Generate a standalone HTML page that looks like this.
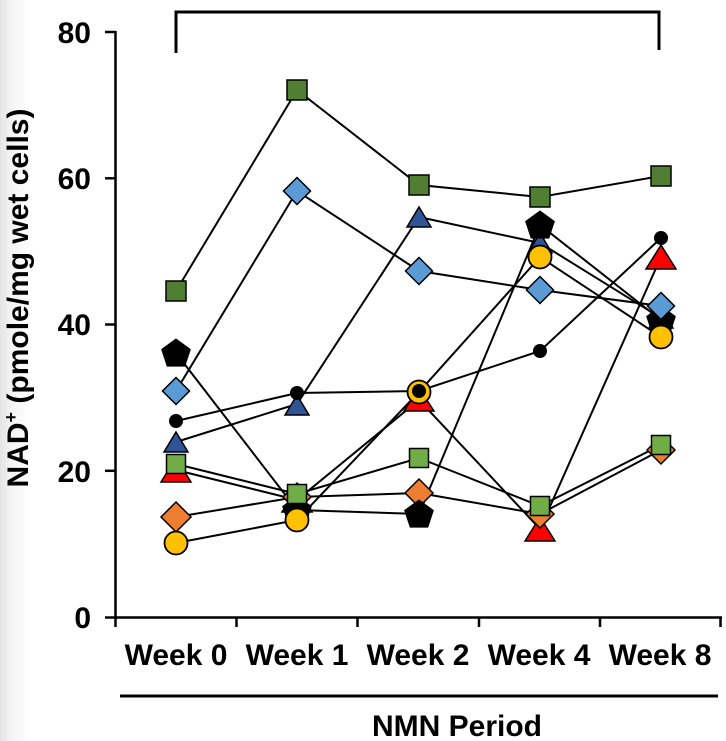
<!DOCTYPE html>
<html><head><meta charset="utf-8"><style>
html,body{margin:0;padding:0;background:#fff;}
svg{display:block;}
text{font-family:"Liberation Sans",Arial,sans-serif;font-weight:bold;fill:#000;}
</style></head><body>
<svg width="726" height="741" viewBox="0 0 726 741" xmlns="http://www.w3.org/2000/svg">
<defs>
<linearGradient id="lg" x1="0" y1="0" x2="1" y2="0">
<stop offset="0" stop-color="#e4e4e4"/><stop offset="0.35" stop-color="#f3f3f3"/><stop offset="1" stop-color="#ffffff"/>
</linearGradient>
</defs>
<rect x="0" y="0" width="726" height="741" fill="#fff"/>
<rect x="0" y="0" width="30" height="741" fill="url(#lg)"/>

<!-- top bracket -->
<polyline points="176,53 176,12 659,12 659,50" fill="none" stroke="#000" stroke-width="3"/>

<!-- axes -->
<line x1="115.5" y1="31" x2="115.5" y2="619" stroke="#000" stroke-width="2.5"/>
<line x1="114" y1="617.5" x2="722" y2="617.5" stroke="#000" stroke-width="2.5"/>
<g stroke="#000" stroke-width="2.5">
<line x1="105" y1="32" x2="116" y2="32"/>
<line x1="105" y1="178.3" x2="116" y2="178.3"/>
<line x1="105" y1="324.5" x2="116" y2="324.5"/>
<line x1="105" y1="470.8" x2="116" y2="470.8"/>
<line x1="105" y1="617.5" x2="116" y2="617.5"/>
<line x1="115.5" y1="617" x2="115.5" y2="627"/>
<line x1="236.5" y1="617" x2="236.5" y2="627"/>
<line x1="357.5" y1="617" x2="357.5" y2="627"/>
<line x1="479" y1="617" x2="479" y2="627"/>
<line x1="600" y1="617" x2="600" y2="627"/>
<line x1="720.5" y1="617" x2="720.5" y2="627"/>
</g>

<!-- tick labels -->
<g font-size="30" text-anchor="end">
<text x="91" y="43">80</text>
<text x="91" y="189">60</text>
<text x="91" y="335">40</text>
<text x="91" y="482">20</text>
<text x="91" y="628">0</text>
</g>

<!-- category labels -->
<g font-size="30" text-anchor="middle">
<text x="176" y="665">Week 0</text>
<text x="297" y="665">Week 1</text>
<text x="418" y="665">Week 2</text>
<text x="539" y="665">Week 4</text>
<text x="660" y="665">Week 8</text>
</g>

<line x1="120" y1="696" x2="718" y2="696" stroke="#000" stroke-width="3"/>
<text x="457" y="736" font-size="30" text-anchor="middle">NMN Period</text>

<!-- y label -->
<text transform="translate(28,298) rotate(-90)" font-size="30" text-anchor="middle">NAD<tspan font-size="18" dy="-11">+</tspan><tspan dy="11"> (pmole/mg wet cells)</tspan></text>

<!-- series lines -->
<g fill="none" stroke="#000" stroke-width="2">
<polyline points="176,291 297,90 419,185 540,197 661,176"/>
<polyline points="176,391 297,191 419,271 540,290 661,306"/>
<polyline points="176,442 297,404 419,217 540,243 661,318"/>
<polyline points="176,353 297,510 419,514 540,225 661,320"/>
<polyline points="176,421 297,393 419,391 540,351 661,238"/>
<polyline points="176,470 297,500 419,400 540,529 661,257"/>
<polyline points="176,464 297,494 419,458 540,506 661,445"/>
<polyline points="176,517 297,497 419,493 540,514 661,450"/>
<polyline points="176,543 297,520 419,392 540,257 661,337"/>
</g>

<!-- red triangles -->
<g fill="#ff0000" stroke="#000" stroke-width="1.5" stroke-linejoin="miter">
<polygon points="176,458 191,482 161,482"/>
<polygon points="297,488 312,512 282,512"/>
<polygon points="419,388 434,411 404,411"/>
<polygon points="540,517 555,541 525,541"/>
<polygon points="661,245 676,269 646,269"/>
</g>

<!-- orange diamonds -->
<g fill="#ed7d31" stroke="#000" stroke-width="1.5">
<polygon points="176,502 191,517 176,532 161,517"/>
<polygon points="297,483 311,497 297,511 283,497"/>
<polygon points="419,479 433,493 419,507 405,493"/>
<polygon points="540,500 554,514 540,528 526,514"/>
<polygon points="661,436 675,450 661,464 647,450"/>
</g>

<!-- dark blue triangles -->
<g fill="#2f5597" stroke="#000" stroke-width="1.5">
<polygon points="176,432 188,452 164,452"/>
<polygon points="297,395 309,415 285,415"/>
<polygon points="419,207 431,227 407,227"/>
<polygon points="540,233 552,253 528,253"/>
<polygon points="661,308 673,328 649,328"/>
</g>

<!-- pentagons -->
<g fill="#000" stroke="#000" stroke-width="1">
<polygon points="176,339 190.3,349.4 184.8,366.1 167.2,366.1 161.7,349.4"/>
<polygon points="297,496 311.3,506.4 305.8,523.1 288.2,523.1 282.7,506.4"/>
<polygon points="419,500 433.3,510.4 427.8,527.1 410.2,527.1 404.7,510.4"/>
<polygon points="540,211 554.3,221.4 548.8,238.1 531.2,238.1 525.7,221.4"/>
<polygon points="661,306 675.3,316.4 669.8,333.1 652.2,333.1 646.7,316.4"/>
</g>

<!-- light green squares -->
<g fill="#70ad47" stroke="#000" stroke-width="1.5">
<rect x="166.5" y="454.5" width="19" height="19"/>
<rect x="287.5" y="484.5" width="19" height="19"/>
<rect x="409.5" y="448.5" width="19" height="19"/>
<rect x="530.5" y="496.5" width="19" height="19"/>
<rect x="651.5" y="435.5" width="19" height="19"/>
</g>

<!-- blue diamonds -->
<g fill="#5b9bd5" stroke="#000" stroke-width="1.5">
<polygon points="176,377.5 189.5,391 176,404.5 162.5,391"/>
<polygon points="297,177.5 310.5,191 297,204.5 283.5,191"/>
<polygon points="419,257.5 432.5,271 419,284.5 405.5,271"/>
<polygon points="540,276.5 553.5,290 540,303.5 526.5,290"/>
<polygon points="661,292.5 674.5,306 661,319.5 647.5,306"/>
</g>

<!-- yellow circles -->
<g fill="#ffc000" stroke="#000" stroke-width="1.8">
<circle cx="176" cy="543" r="11.5"/>
<circle cx="297" cy="520" r="11.5"/>
<circle cx="419" cy="392" r="11.5"/>
<circle cx="540" cy="257" r="11.5"/>
<circle cx="661" cy="337" r="11.5"/>
</g>

<!-- black circles -->
<g fill="#000">
<circle cx="176" cy="421" r="7"/>
<circle cx="297" cy="393" r="7"/>
<circle cx="419" cy="391" r="7"/>
<circle cx="540" cy="351" r="7"/>
<circle cx="661" cy="238" r="7"/>
</g>

<!-- dark green squares -->
<g fill="#507e32" stroke="#000" stroke-width="1.5">
<rect x="166" y="281" width="20" height="20"/>
<rect x="287" y="80" width="20" height="20"/>
<rect x="409" y="175" width="20" height="20"/>
<rect x="530" y="187" width="20" height="20"/>
<rect x="651" y="166" width="20" height="20"/>
</g>
</svg>
</body></html>
